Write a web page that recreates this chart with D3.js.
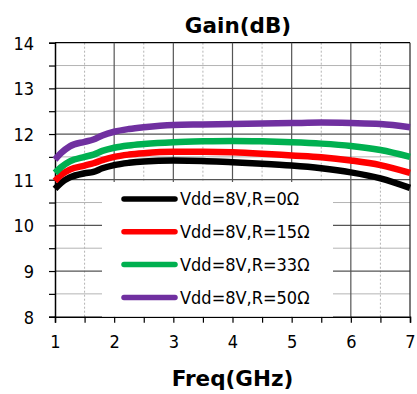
<!DOCTYPE html>
<html><head><meta charset="utf-8">
<script src="https://cdn.jsdelivr.net/npm/d3@7"></script>
<style>
body{margin:0;background:#fff;}
svg{display:block;}
.tk{font-family:"DejaVu Sans Condensed","DejaVu Sans",sans-serif;font-stretch:condensed;font-size:18px;fill:#000;}
.ttl{font-family:"DejaVu Sans",sans-serif;font-weight:bold;font-size:21.5px;fill:#000;}
</style></head>
<body>
<svg id="c" width="417" height="394"></svg>
<script>
const freq = [1, 1.1, 1.25, 1.5, 1.65, 1.8, 2, 2.25, 2.5, 3, 3.5, 4, 4.5, 5, 5.5, 6, 6.5, 7];
const gainR0  = [10.8, 10.93, 11.05, 11.14, 11.17, 11.25, 11.32, 11.37, 11.40, 11.42, 11.41, 11.38, 11.35, 11.31, 11.25, 11.16, 11.03, 10.82];
const gainR15 = [10.97, 11.1, 11.22, 11.31, 11.36, 11.43, 11.5, 11.55, 11.58, 11.61, 11.61, 11.6, 11.57, 11.53, 11.49, 11.42, 11.32, 11.15];
const gainR33 = [11.15, 11.27, 11.4, 11.5, 11.55, 11.63, 11.7, 11.75, 11.78, 11.82, 11.84, 11.85, 11.84, 11.82, 11.79, 11.74, 11.65, 11.5];
const gainR50 = [11.44, 11.58, 11.73, 11.83, 11.88, 11.97, 12.05, 12.11, 12.15, 12.2, 12.21, 12.22, 12.23, 12.24, 12.25, 12.24, 12.22, 12.15];
const seriesNames = ["Vdd=8V,R=0Ω", "Vdd=8V,R=15Ω", "Vdd=8V,R=33Ω", "Vdd=8V,R=50Ω"];
const xTicks = [1, 2, 3, 4, 5, 6, 7];
const yTicks = [8, 9, 10, 11, 12, 13, 14];
const titleText = "Gain(dB)";
const xTitle = "Freq(GHz)";

const colors = ["#000000", "#ff0000", "#00b050", "#7030a0"];
const allSeries = [gainR0, gainR15, gainR33, gainR50];

const svg = d3.select("#c");
const L = 55, R = 410, T = 42.7, B = 316.7;
const x = d3.scaleLinear().domain([1, 7]).range([L, R]);
const y = d3.scaleLinear().domain([8, 14]).range([B, T]);

const g = svg.append("g");
// minor grid
const halfX = d3.range(1.5, 7, 1);
const halfY = d3.range(8.5, 14, 1);
g.selectAll(".mhy").data(halfY).enter().append("line")
  .attr("x1", L).attr("x2", R).attr("y1", d => y(d)).attr("y2", d => y(d))
  .attr("stroke", "#b4b4b4").attr("stroke-width", 1);
g.selectAll(".mvx").data(halfX).enter().append("line")
  .attr("y1", T).attr("y2", B).attr("x1", d => x(d)).attr("x2", d => x(d))
  .attr("stroke", "#b4b4b4").attr("stroke-width", 1).attr("stroke-dasharray", "2,2");
// major grid
g.selectAll(".My").data(yTicks.slice(1)).enter().append("line")
  .attr("x1", L).attr("x2", R).attr("y1", d => y(d)).attr("y2", d => y(d))
  .attr("stroke", d => d === 14 ? "#000" : "#555").attr("stroke-width", 1.2);
g.selectAll(".Mx").data(xTicks.slice(1)).enter().append("line")
  .attr("y1", T).attr("y2", B).attr("x1", d => x(d)).attr("x2", d => x(d))
  .attr("stroke", d => d === 7 ? "#222" : "#555").attr("stroke-width", 1.2);

// legend box background
const lg = svg.append("g");
lg.append("rect").attr("x", 102).attr("y", 182).attr("width", 231).attr("height", B - 182)
  .attr("fill", "#fff");

// axes
const yAxis = d3.axisLeft(y).tickValues(d3.range(8, 14.01, 0.5)).tickSize(6)
  .tickFormat(d => Number.isInteger(d) ? d : "");
const xAxis = d3.axisBottom(x).tickValues(d3.range(1, 7.01, 0.5)).tickSize(6)
  .tickFormat(d => Number.isInteger(d) ? d : "");
const ya = svg.append("g").attr("transform", `translate(${L},0)`).call(yAxis);
const xa = svg.append("g").attr("transform", `translate(0,${B})`).call(xAxis);
[ya, xa].forEach(a => {
  a.select(".domain").attr("stroke", "#000").attr("stroke-width", 1.5);
  a.selectAll(".tick line").attr("stroke", "#000").attr("stroke-width", 1.2);
  a.selectAll("text").attr("class", "tk").attr("font-size", null).attr("font-family", null);
});
ya.selectAll("text").attr("x", -21).attr("dy", "0.36em");
xa.selectAll("text").attr("y", 19).attr("dy", "0.71em");

// lines
const line = d3.line().x((d, i) => x(freq[i])).y(d => y(d)).curve(d3.curveMonotoneX);
allSeries.forEach((s, k) => {
  svg.append("path").datum(s).attr("d", line)
    .attr("fill", "none").attr("stroke", colors[k]).attr("stroke-width", 6.5)
    .attr("stroke-linecap", "butt").attr("stroke-linejoin", "round");
});

// legend entries
seriesNames.forEach((n, k) => {
  const yy = 199 + k * 32.8;
  lg.append("line").attr("x1", 124).attr("x2", 175).attr("y1", yy).attr("y2", yy)
    .attr("stroke", colors[k]).attr("stroke-width", 5.5).attr("stroke-linecap", "round");
  lg.append("text").attr("class", "tk").attr("x", 180).attr("y", yy).attr("dy", "0.36em").text(n);
});
lg.raise();

svg.append("text").attr("class", "ttl").attr("x", 238).attr("y", 33).attr("text-anchor", "middle").text(titleText);
svg.append("text").attr("class", "ttl").attr("x", 232.5).attr("y", 386).attr("text-anchor", "middle").text(xTitle);
</script>
</body></html>
